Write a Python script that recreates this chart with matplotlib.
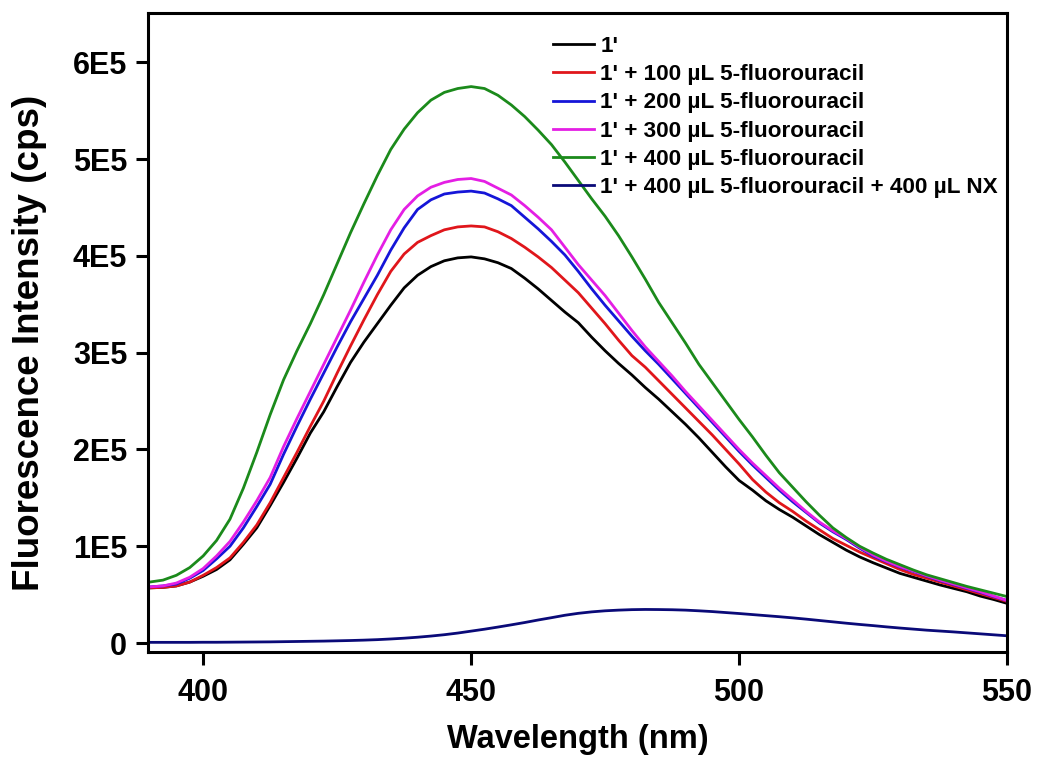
import matplotlib
matplotlib.use("Agg")
import matplotlib.pyplot as plt
import numpy as np

plt.rcParams['font.family'] = ['Liberation Sans', 'DejaVu Sans']
plt.rcParams['font.weight'] = 'bold'

# wavelength grid (nm): 390 ... 550 in 2.5 nm steps
wavelength = np.arange(390, 552.5, 2.5)

# intensities in units of 1E5 cps, four values per 10 nm row
blank = [0.57, 0.575, 0.59, 0.63,
         0.69, 0.76, 0.86, 1.02,
         1.19, 1.42, 1.66, 1.91,
         2.17, 2.39, 2.65, 2.90,
         3.11, 3.30, 3.49, 3.67,
         3.80, 3.89, 3.95, 3.98,
         3.99, 3.97, 3.93, 3.87,
         3.77, 3.66, 3.54, 3.42,
         3.31, 3.16, 3.02, 2.89,
         2.77, 2.64, 2.52, 2.39,
         2.26, 2.12, 1.97, 1.82,
         1.68, 1.58, 1.47, 1.38,
         1.30, 1.21, 1.12, 1.04,
         0.96, 0.89, 0.83, 0.775,
         0.72, 0.68, 0.64, 0.60,
         0.565, 0.53, 0.485, 0.45,
         0.41]
fu_100 = [0.57, 0.575, 0.59, 0.63,
          0.70, 0.78, 0.88, 1.04,
          1.22, 1.45, 1.71, 1.97,
          2.24, 2.50, 2.79, 3.07,
          3.34, 3.60, 3.84, 4.02,
          4.14, 4.21, 4.27, 4.30,
          4.31, 4.30, 4.25, 4.18,
          4.09, 3.99, 3.88, 3.75,
          3.62, 3.46, 3.30, 3.13,
          2.97, 2.85, 2.71, 2.57,
          2.43, 2.29, 2.15, 2.00,
          1.85, 1.69, 1.56, 1.45,
          1.36, 1.26, 1.17, 1.08,
          1.01, 0.94, 0.88, 0.82,
          0.76, 0.71, 0.67, 0.63,
          0.59, 0.55, 0.51, 0.47,
          0.43]
fu_200 = [0.58, 0.59, 0.61, 0.67,
          0.75, 0.87, 1.00, 1.19,
          1.41, 1.64, 1.95, 2.24,
          2.52, 2.79, 3.06, 3.32,
          3.56, 3.80, 4.06, 4.29,
          4.48, 4.58, 4.64, 4.66,
          4.67, 4.65, 4.59, 4.52,
          4.40, 4.28, 4.15, 4.01,
          3.84, 3.66, 3.49, 3.33,
          3.17, 3.02, 2.88, 2.73,
          2.58, 2.43, 2.28, 2.13,
          1.98, 1.84, 1.71, 1.58,
          1.46, 1.35, 1.24, 1.15,
          1.07, 0.98, 0.90, 0.84,
          0.785, 0.74, 0.69, 0.645,
          0.605, 0.565, 0.525, 0.48,
          0.44]
fu_300 = [0.58, 0.59, 0.62, 0.68,
          0.77, 0.90, 1.05, 1.25,
          1.47, 1.71, 2.03, 2.32,
          2.60, 2.88, 3.16, 3.44,
          3.73, 4.01, 4.27, 4.48,
          4.62, 4.71, 4.76, 4.79,
          4.80, 4.77, 4.70, 4.63,
          4.52, 4.40, 4.27, 4.09,
          3.91, 3.75, 3.59, 3.41,
          3.23, 3.06, 2.91, 2.76,
          2.60, 2.45, 2.30, 2.15,
          2.00, 1.86, 1.73, 1.60,
          1.48, 1.36, 1.25, 1.16,
          1.08, 0.99, 0.91, 0.845,
          0.79, 0.745, 0.695, 0.65,
          0.61, 0.57, 0.53, 0.485,
          0.44]
fu_400 = [0.63, 0.65, 0.70, 0.78,
          0.90, 1.06, 1.28, 1.60,
          1.97, 2.36, 2.72, 3.02,
          3.30, 3.60, 3.92, 4.24,
          4.54, 4.83, 5.10, 5.31,
          5.48, 5.61, 5.69, 5.73,
          5.75, 5.73, 5.66, 5.56,
          5.44, 5.30, 5.15, 4.97,
          4.78, 4.59, 4.41, 4.21,
          3.99, 3.76, 3.52, 3.31,
          3.10, 2.88, 2.69, 2.50,
          2.31, 2.13, 1.94, 1.76,
          1.61, 1.46, 1.32, 1.19,
          1.09, 1.00, 0.93, 0.865,
          0.81, 0.755, 0.705, 0.665,
          0.625, 0.585, 0.55, 0.515,
          0.48]
fu_400_nx = [0.007, 0.007, 0.007, 0.007,
             0.008, 0.008, 0.009, 0.010,
             0.011, 0.012, 0.014, 0.016,
             0.018, 0.020, 0.023, 0.026,
             0.030, 0.035, 0.042, 0.050,
             0.060, 0.072, 0.086, 0.103,
             0.123, 0.143, 0.165, 0.188,
             0.212, 0.238, 0.262, 0.287,
             0.307, 0.322, 0.333, 0.340,
             0.345, 0.347, 0.346, 0.344,
             0.340, 0.333, 0.325, 0.315,
             0.305, 0.294, 0.283, 0.272,
             0.260, 0.247, 0.233, 0.219,
             0.205, 0.192, 0.180, 0.167,
             0.155, 0.144, 0.133, 0.124,
             0.115, 0.105, 0.095, 0.085,
             0.075]

labels = ["1'",
          "1' + 100 µL 5-fluorouracil",
          "1' + 200 µL 5-fluorouracil",
          "1' + 300 µL 5-fluorouracil",
          "1' + 400 µL 5-fluorouracil",
          "1' + 400 µL 5-fluorouracil + 400 µL NX"]
colors = ['#000000', '#e0161b', '#1515d8', '#e41ee4', '#1b8a1b', '#0a0a78']
series = [blank, fu_100, fu_200, fu_300, fu_400, fu_400_nx]

fig = plt.figure(figsize=(10.37, 7.58), dpi=100)
ax = fig.add_axes([0.1427, 0.1398, 0.8284, 0.8430])

for y, c, lab in zip(series, colors, labels):
    ax.plot(wavelength, np.array(y) * 1e5, color=c, lw=2.0, label=lab)

ax.set_xlim(389.7, 550)
ax.set_ylim(-9300, 651000)
ax.set_xticks([400, 450, 500, 550])
ax.set_yticks([0, 1e5, 2e5, 3e5, 4e5, 5e5, 6e5])
ax.set_yticklabels(['0', '1E5', '2E5', '3E5', '4E5', '5E5', '6E5'])

for s in ax.spines.values():
    s.set_linewidth(2.2)
ax.tick_params(axis='both', direction='out', length=9, width=2.2,
               labelsize=22, pad=6)
ax.tick_params(axis='x', pad=10)
for t in ax.get_xticklabels() + ax.get_yticklabels():
    t.set_fontweight('bold')

ax.set_xlabel('Wavelength (nm)', fontsize=23.5, fontweight='bold', labelpad=11)
ax.set_ylabel('Fluorescence Intensity (cps)', fontsize=26.5, fontweight='bold')
ax.yaxis.set_label_coords(-0.118, 0.484)

leg = ax.legend(loc='upper left', bbox_to_anchor=(0.461, 0.978), frameon=False,
                fontsize=16.2, handlelength=1.8, handletextpad=0.3,
                labelspacing=0.32, borderaxespad=0)
for t in leg.get_texts():
    t.set_fontweight('bold')

fig.savefig('out.png', dpi=100)
